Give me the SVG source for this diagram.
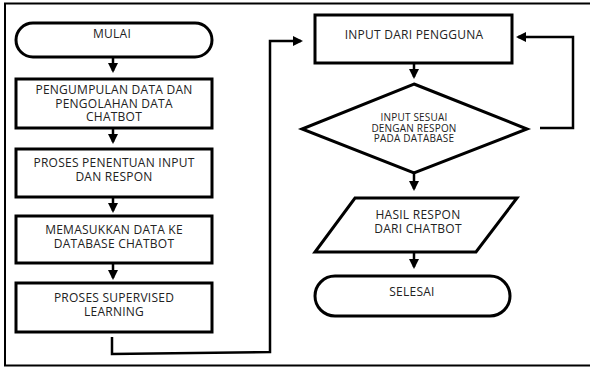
<svg xmlns="http://www.w3.org/2000/svg" width="590" height="367" viewBox="0 0 590 367">
<defs>
<marker id="ah" markerWidth="4" markerHeight="4" refX="3.2" refY="2" orient="auto" markerUnits="strokeWidth">
<path d="M0,0 L4,2 L0,4 Z" fill="#000"/>
</marker>
<style>
.shape{fill:#fff;stroke:#000;stroke-width:3}
.t{font-family:"Open Sans","Liberation Sans",sans-serif;font-size:12px;letter-spacing:0.25px;fill:#222;text-anchor:middle}
.s{font-size:10px;letter-spacing:0.2px}
.c{fill:none;stroke:#000;stroke-width:2.5}
</style>
</defs>
<rect width="590" height="367" fill="#fff"/>
<path d="M600,3.5 H5 V365.5 H600" fill="none" stroke="#000" stroke-width="2"/>
<g id="mulai"><rect class="shape" x="16" y="23" width="196" height="34" rx="17"/><text class="t" x="112" y="38">MULAI</text></g>
<g id="pengumpulan"><rect class="shape" x="16" y="79" width="196" height="49"/><text class="t" x="114" y="94">PENGUMPULAN DATA DAN</text><text class="t" x="114" y="107.5">PENGOLAHAN DATA</text><text class="t" x="114" y="121">CHATBOT</text></g>
<g id="penentuan"><rect class="shape" x="16" y="149" width="196" height="48"/><text class="t" x="114" y="167">PROSES PENENTUAN INPUT</text><text class="t" x="114" y="181">DAN RESPON</text></g>
<g id="memasukkan"><rect class="shape" x="16" y="216" width="196" height="47"/><text class="t" x="114" y="234">MEMASUKKAN DATA KE</text><text class="t" x="114" y="247.5">DATABASE CHATBOT</text></g>
<g id="supervised"><rect class="shape" x="16" y="283" width="196" height="49"/><text class="t" x="114" y="302">PROSES SUPERVISED</text><text class="t" x="114" y="315.5">LEARNING</text></g>
<g id="input"><rect class="shape" x="315" y="15" width="197" height="48"/><text class="t" x="414" y="39">INPUT DARI PENGGUNA</text></g>
<g id="sesuai"><polygon class="shape" points="414,84 527,129 414,173 302,129"/><text class="t s" x="414" y="121">INPUT SESUAI</text><text class="t s" x="414" y="131.5">DENGAN RESPON</text><text class="t s" x="414" y="142">PADA DATABASE</text></g>
<g id="hasil"><polygon class="shape" points="355,198 517,198 476,252 315,252"/><text class="t" x="418" y="219">HASIL RESPON</text><text class="t" x="418" y="232.5">DARI CHATBOT</text></g>
<g id="selesai"><rect class="shape" x="315" y="276" width="195" height="40" rx="20"/><text class="t" x="412" y="296">SELESAI</text></g>
<g id="connectors">
<path class="c" d="M113,57 V71" marker-end="url(#ah)"/>
<path class="c" d="M113,128 V142" marker-end="url(#ah)"/>
<path class="c" d="M113,197 V211" marker-end="url(#ah)"/>
<path class="c" d="M113,263 V278" marker-end="url(#ah)"/>
<path class="c" d="M112,337 V354 L270,352 V41 H301" marker-end="url(#ah)"/>
<path class="c" d="M414,63 V77" marker-end="url(#ah)"/>
<path class="c" d="M540,128 H573 V37 H518" marker-end="url(#ah)"/>
<path class="c" d="M414,173 V189" marker-end="url(#ah)"/>
<path class="c" d="M414,252 V267" marker-end="url(#ah)"/>
</g>
</svg>
